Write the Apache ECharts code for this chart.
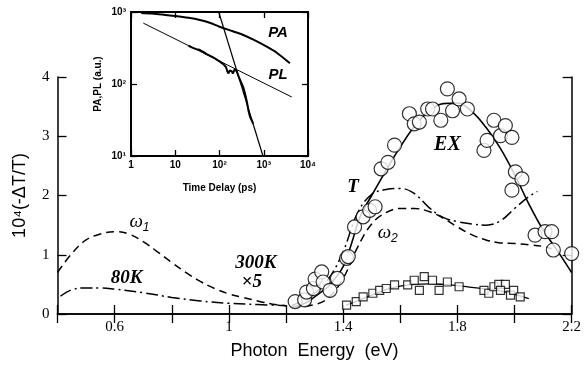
<!DOCTYPE html>
<html><head><meta charset="utf-8">
<script src="https://cdn.jsdelivr.net/npm/echarts@6/dist/echarts.min.js"></script>
<style>html,body{margin:0;padding:0;background:#fff}#c{width:584px;height:369px}</style>
</head><body><div id="c"></div>
<script>
// ---- main panel data: photon energy (eV), 10^4(-dT/T)
var exCircles = [[1.232,0.21],[1.265,0.24],[1.272,0.37],[1.296,0.43],[1.302,0.59],[1.325,0.71],[1.330,0.54],[1.354,0.40],[1.380,0.60],[1.412,0.94],[1.418,0.97],[1.440,1.47],[1.470,1.64],[1.493,1.75],[1.512,1.81],[1.533,2.45],[1.557,2.56],[1.580,2.85],[1.632,3.38],[1.649,3.21],[1.667,3.24],[1.696,3.46],[1.713,3.46],[1.742,3.27],[1.765,3.80],[1.783,3.43],[1.806,3.63],[1.835,3.46],[1.893,2.76],[1.904,2.93],[1.928,3.27],[1.951,3.01],[1.968,3.18],[1.991,2.98],[2.003,2.40],[2.026,2.28],[1.991,2.09],[2.072,1.33],[2.107,1.39],[2.130,1.39],[2.136,1.08],[2.200,1.02]];
var exFit = [[1.23,0.12],[1.27,0.19],[1.30,0.29],[1.35,0.48],[1.40,0.80],[1.43,1.20],[1.46,1.65],[1.50,2.00],[1.55,2.42],[1.60,2.82],[1.65,3.17],[1.70,3.42],[1.75,3.55],[1.80,3.56],[1.85,3.42],[1.90,3.15],[1.95,2.80],[2.00,2.36],[2.05,1.86],[2.10,1.42],[2.15,1.07],[2.20,0.70]];
var tCurve = [[1.22,0.14],[1.30,0.35],[1.35,0.60],[1.40,1.05],[1.45,1.70],[1.50,2.02],[1.55,2.10],[1.60,2.12],[1.65,2.03],[1.70,1.80],[1.75,1.63],[1.80,1.56],[1.85,1.52],[1.90,1.50],[1.95,1.57],[2.00,1.78],[2.05,1.98],[2.08,2.07]];
var w2Curve = [[1.22,0.12],[1.30,0.16],[1.35,0.28],[1.40,0.60],[1.45,1.12],[1.50,1.52],[1.55,1.71],[1.60,1.78],[1.65,1.78],[1.70,1.73],[1.75,1.62],[1.80,1.47],[1.85,1.34],[1.90,1.25],[1.95,1.20],[2.00,1.19],[2.05,1.17],[2.10,1.14],[2.13,1.10]];
var w1Curve = [[0.40,0.70],[0.45,1.02],[0.50,1.25],[0.55,1.35],[0.60,1.39],[0.65,1.35],[0.70,1.22],[0.75,1.05],[0.80,0.87],[0.85,0.70],[0.90,0.55],[0.95,0.43],[1.00,0.34],[1.05,0.28],[1.10,0.22],[1.15,0.17],[1.20,0.14]];
var k80Curve = [[0.41,0.30],[0.45,0.41],[0.50,0.44],[0.55,0.44],[0.60,0.42],[0.70,0.36],[0.80,0.28],[0.90,0.22],[1.00,0.18],[1.10,0.16],[1.20,0.14]];
var sqPoints = [[1.412,0.15],[1.446,0.21],[1.470,0.29],[1.504,0.35],[1.528,0.40],[1.551,0.43],[1.580,0.49],[1.626,0.49],[1.649,0.57],[1.667,0.40],[1.684,0.63],[1.713,0.57],[1.736,0.40],[1.765,0.54],[1.806,0.46],[1.893,0.40],[1.910,0.35],[1.928,0.46],[1.945,0.50],[1.968,0.50],[1.951,0.40],[1.986,0.32],[1.997,0.40],[2.020,0.29]];
var sqFit = [[1.41,0.15],[1.45,0.22],[1.50,0.32],[1.55,0.41],[1.60,0.47],[1.65,0.50],[1.70,0.51],[1.75,0.50],[1.80,0.48],[1.85,0.45],[1.90,0.42],[1.95,0.39],[2.00,0.33],[2.05,0.26]];
var xTickLabels = ['0.6','1','1.4','1.8','2.2'];
var yTickLabels = ['0','1','2','3','4'];
// ---- inset data: time delay (ps), PA/PL (a.u.)
var paCurve = [[1.7,970],[3,950],[6,910],[10,880],[20,830],[36,775],[60,710],[100,625],[200,540],[345,480],[600,410],[1170,330],[2000,270],[3900,194]];
var plFit = [[1.9,700],[4300,66]];
var plData = [[20,340],[25,318],[30,305],[35,300],[40,285],[45,275],[50,262],[60,248],[70,236],[80,225],[90,215],[100,206],[120,190],[140,172],[150,150],[160,140],[170,155],[180,165],[190,150],[200,140],[220,160],[245,150],[270,128],[300,110],[345,90],[380,72],[420,55],[450,43],[490,35],[520,33],[580,28]];
var steepLine = [[96,1000],[960,10]];

var sup = {'1':'\u00b9','2':'\u00b2','3':'\u00b3','4':'\u2074'};
function logLab(v){ var e = Math.round(Math.log10(v)); if(e===0) return '1'; if(e===1) return '10'; return '10'+sup[e]; }
function logLabY(v){ var e = Math.round(Math.log10(v)); return '10'+sup[e]; }

var chart = echarts.init(document.getElementById('c'));
var serif = 'Liberation Serif';
var sans = 'Liberation Sans';
var mainAxisLine = {show:true, lineStyle:{color:'#000', width:1.5}};
var mainTick = {show:true, inside:true, length:9, lineStyle:{color:'#000', width:1.3}};
var insetAxisLine = {show:true, lineStyle:{color:'#000', width:2}};
var insetTick = {show:true, inside:true, length:6, lineStyle:{color:'#000', width:1.3}};
function fmtX(v){ var s = (Math.round(v*10)/10).toString(); return xTickLabels.indexOf(s)>=0 ? s : ''; }

chart.setOption({
  animation:false,
  backgroundColor:'#fff',
  grid:[
    {left:57.5, right:8, top:77, bottom:55},
    {left:131, top:12, width:177, height:144}
  ],
  xAxis:[
    {gridIndex:0, type:'value', min:0.4, max:2.2, interval:0.2, position:'bottom',
     axisLine:mainAxisLine, axisTick:mainTick, splitLine:{show:false},
     axisLabel:{formatter:fmtX, color:'#000', fontFamily:serif, fontSize:15, margin:6},
     name:'Photon  Energy  (eV)', nameLocation:'middle', nameGap:28,
     nameTextStyle:{fontFamily:sans, fontSize:18, color:'#000'}},
    {gridIndex:0, type:'value', min:0.4, max:2.2, interval:0.2, position:'top',
     axisLine:mainAxisLine, axisTick:mainTick, axisLabel:{show:false}, splitLine:{show:false}},
    {gridIndex:1, type:'log', logBase:10, min:1, max:10000, position:'bottom', z:10,
     axisLine:insetAxisLine, axisTick:insetTick, splitLine:{show:false}, minorTick:{show:false},
     axisLabel:{formatter:logLab, color:'#000', fontFamily:sans, fontWeight:'bold', fontSize:10, margin:4},
     name:'Time Delay (ps)', nameLocation:'middle', nameGap:27,
     nameTextStyle:{fontFamily:sans, fontWeight:'bold', fontSize:10, color:'#000'}},
    {gridIndex:1, type:'log', logBase:10, min:1, max:10000, position:'top', z:10,
     axisLine:insetAxisLine, axisTick:insetTick, axisLabel:{show:false}, splitLine:{show:false}}
  ],
  yAxis:[
    {gridIndex:0, type:'value', min:0, max:4, interval:1, position:'left',
     axisLine:mainAxisLine, axisTick:mainTick, splitLine:{show:false},
     axisLabel:{formatter:function(v){return yTickLabels[Math.round(v)];}, color:'#000', fontFamily:serif, fontSize:15, margin:8},
     name:'10\u2074(-\u0394T/T)', nameLocation:'middle', nameGap:28,
     nameTextStyle:{fontFamily:sans, fontSize:18, color:'#000'}},
    {gridIndex:0, type:'value', min:0, max:4, interval:1, position:'right',
     axisLine:mainAxisLine, axisTick:mainTick, axisLabel:{show:false}, splitLine:{show:false}},
    {gridIndex:1, type:'log', logBase:10, min:10, max:1000, position:'left', z:10,
     axisLine:insetAxisLine, axisTick:insetTick, splitLine:{show:false},
     axisLabel:{formatter:logLabY, color:'#000', fontFamily:sans, fontWeight:'bold', fontSize:10, margin:5},
     name:'PA,PL (a.u.)', nameLocation:'middle', nameGap:28,
     nameTextStyle:{fontFamily:sans, fontWeight:'bold', fontSize:10, color:'#000'}},
    {gridIndex:1, type:'log', logBase:10, min:10, max:1000, position:'right', z:10,
     axisLine:insetAxisLine, axisTick:insetTick, axisLabel:{show:false}, splitLine:{show:false}}
  ],
  series:[
    {type:'line', xAxisIndex:0, yAxisIndex:0, data:w1Curve, smooth:0.4, showSymbol:false, lineStyle:{color:'#000', width:1.5, type:[8,5]}},
    {type:'line', xAxisIndex:0, yAxisIndex:0, data:k80Curve, smooth:0.4, showSymbol:false, lineStyle:{color:'#000', width:1.5, type:[12,4,2,4]}},
    {type:'line', xAxisIndex:0, yAxisIndex:0, data:w2Curve, smooth:0.4, showSymbol:false, lineStyle:{color:'#000', width:1.5, type:[8,5]}},
    {type:'line', xAxisIndex:0, yAxisIndex:0, data:tCurve, smooth:0.4, showSymbol:false, lineStyle:{color:'#000', width:1.5, type:[12,4,2,4]}},
    {type:'line', xAxisIndex:0, yAxisIndex:0, data:exFit, smooth:0.4, showSymbol:false, lineStyle:{color:'#000', width:1.6}},
    {type:'line', xAxisIndex:0, yAxisIndex:0, data:sqFit, smooth:0.4, showSymbol:false, lineStyle:{color:'#000', width:1.3}},
    {type:'scatter', xAxisIndex:0, yAxisIndex:0, data:exCircles, symbol:'circle', symbolSize:14, z:4,
     itemStyle:{color:'#fff', borderColor:'#000', borderWidth:1.2}},
    {type:'scatter', xAxisIndex:0, yAxisIndex:0, data:sqPoints, symbol:'rect', symbolSize:8, z:4,
     itemStyle:{color:'#fff', borderColor:'#000', borderWidth:1.2}},
    {type:'line', xAxisIndex:2, yAxisIndex:2, data:paCurve, smooth:0.3, showSymbol:false, z:12, lineStyle:{color:'#000', width:2}},
    {type:'line', xAxisIndex:2, yAxisIndex:2, data:plFit, showSymbol:false, z:12, lineStyle:{color:'#000', width:1}},
    {type:'line', xAxisIndex:2, yAxisIndex:2, data:plData, showSymbol:false, z:12, lineStyle:{color:'#000', width:2}},
    {type:'line', xAxisIndex:2, yAxisIndex:2, data:steepLine, showSymbol:false, z:12, lineStyle:{color:'#000', width:1.2}}
  ]
});

function P0(x,y){ return chart.convertToPixel({xAxisIndex:0, yAxisIndex:0}, [x,y]); }
function P1(x,y){ return chart.convertToPixel({xAxisIndex:2, yAxisIndex:2}, [x,y]); }
var bi = {fontFamily:serif, fontStyle:'italic', fontWeight:'bold', fill:'#000', align:'center', verticalAlign:'middle'};
function txt(p, s, size, extra){
  var st = Object.assign({}, bi, {text:s, fontSize:size}, extra||{});
  return {type:'text', x:p[0], y:p[1], z:20, style:st};
}
var omegaRich = {w:{fontFamily:serif, fontStyle:'italic', fontSize:19, fill:'#000'}, s:{fontFamily:sans, fontStyle:'italic', fontSize:12, fill:'#000', padding:[10,0,0,0]}};
var gr = [
  {type:'rect', shape:{x:84, y:0, width:228, height:198}, style:{fill:'#fff'}, z:5},
  txt(P0(1.765,2.85), 'EX', 20),
  txt(P0(1.435,2.14), 'T', 19),
  txt(P0(0.642,0.61), '80K', 19),
  txt(P0(1.094,0.86), '300K', 19),
  txt(P0(1.08,0.54), '\u00d75', 19),
  {type:'text', x:P0(0.687,1.55)[0], y:P0(0.687,1.55)[1], z:20, style:{text:'{w|\u03c9}{s|1}', rich:omegaRich, align:'center', verticalAlign:'middle'}},
  {type:'text', x:P0(1.556,1.36)[0], y:P0(1.556,1.36)[1], z:20, style:{text:'{w|\u03c9}{s|2}', rich:omegaRich, align:'center', verticalAlign:'middle'}},
  txt(P1(2100,512), 'PA', 15, {fontFamily:sans}),
  txt(P1(2100,133), 'PL', 15, {fontFamily:sans})
];
chart.setOption({graphic:gr});
</script></body></html>
